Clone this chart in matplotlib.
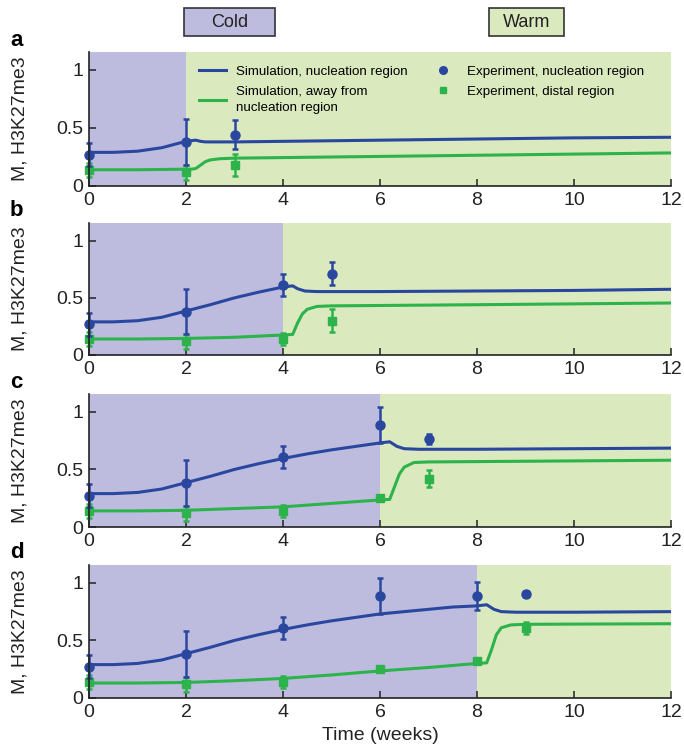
import matplotlib
matplotlib.use("Agg")
import matplotlib.pyplot as plt
from matplotlib.lines import Line2D
from matplotlib.patches import Rectangle

plt.rcParams['font.family'] = ['Liberation Sans', 'DejaVu Sans']

# ---------------- data ----------------
panel_labels = ['a', 'b', 'c', 'd']
cold_end = [2, 4, 6, 8]
x_ticks = [0, 2, 4, 6, 8, 10, 12]
y_ticks = [0, 0.5, 1]
y_tick_labels = ['0', '0.5', '1']

# experiment, nucleation region (times in weeks)
exp_nuc_t_cold = [0, 2, 4, 6, 8]
exp_nuc_m_cold = [0.27, 0.38, 0.61, 0.885, 0.885]
exp_nuc_e_cold = [0.10, 0.20, 0.095, 0.155, 0.125]
exp_nuc_t_post = [3, 5, 7, 9]
exp_nuc_m_post = [0.44, 0.71, 0.765, 0.90]
exp_nuc_e_post = [0.125, 0.10, 0.04, 0.025]

# experiment, distal region
exp_dist_t_cold = [0, 2, 4, 6, 8]
exp_dist_m_cold = [0.14, 0.12, 0.14, 0.25, 0.32]
exp_dist_e_cold = [0.06, 0.065, 0.055, 0.02, 0.02]
exp_dist_t_post = [3, 5, 7, 9]
exp_dist_m_post = [0.18, 0.30, 0.42, 0.61]
exp_dist_e_post = [0.095, 0.10, 0.075, 0.05]

# simulations, nucleation region
sim_nuc_t_a = [0, 0.5, 1, 1.5, 2, 2.1, 2.2, 2.3, 2.4, 2.6, 3, 4, 6, 8, 10, 12]
sim_nuc_m_a = [0.29, 0.29, 0.30, 0.33, 0.385, 0.39, 0.395, 0.385, 0.38, 0.38, 0.38, 0.385, 0.395, 0.405, 0.415, 0.42]
sim_nuc_t_b = [0, 0.5, 1, 1.5, 2, 2.5, 3, 3.5, 4, 4.1, 4.2, 4.3, 4.45, 4.7, 6, 8, 10, 12]
sim_nuc_m_b = [0.29, 0.29, 0.30, 0.33, 0.385, 0.44, 0.50, 0.55, 0.595, 0.60, 0.605, 0.58, 0.56, 0.555, 0.555, 0.56, 0.565, 0.575]
sim_nuc_t_c = [0, 0.5, 1, 1.5, 2, 2.5, 3, 3.5, 4, 4.5, 5, 5.5, 6, 6.1, 6.2, 6.35, 6.5, 6.8, 8, 10, 12]
sim_nuc_m_c = [0.29, 0.29, 0.30, 0.33, 0.385, 0.44, 0.50, 0.55, 0.595, 0.635, 0.67, 0.70, 0.73, 0.735, 0.74, 0.70, 0.68, 0.675, 0.675, 0.68, 0.685]
sim_nuc_t_d = [0, 0.5, 1, 1.5, 2, 2.5, 3, 3.5, 4, 4.5, 5, 5.5, 6, 6.5, 7, 7.5, 8, 8.1, 8.2, 8.35, 8.5, 8.8, 10, 12]
sim_nuc_m_d = [0.29, 0.29, 0.30, 0.33, 0.385, 0.44, 0.50, 0.55, 0.595, 0.635, 0.67, 0.70, 0.73, 0.75, 0.77, 0.79, 0.80, 0.805, 0.81, 0.77, 0.75, 0.745, 0.745, 0.75]

# simulations, away from nucleation region
sim_dist_t_a = [0, 1, 2, 2.1, 2.2, 2.3, 2.4, 2.5, 2.7, 3, 4, 6, 8, 10, 12]
sim_dist_m_a = [0.14, 0.14, 0.145, 0.145, 0.15, 0.18, 0.21, 0.225, 0.235, 0.24, 0.245, 0.255, 0.265, 0.275, 0.285]
sim_dist_t_b = [0, 1, 2, 3, 4, 4.2, 4.3, 4.4, 4.5, 4.7, 5, 8, 12]
sim_dist_m_b = [0.14, 0.14, 0.145, 0.155, 0.175, 0.18, 0.28, 0.36, 0.40, 0.425, 0.43, 0.44, 0.455]
sim_dist_t_c = [0, 1, 2, 3, 4, 5, 6, 6.2, 6.3, 6.4, 6.5, 6.7, 7, 12]
sim_dist_m_c = [0.14, 0.14, 0.145, 0.16, 0.175, 0.205, 0.235, 0.24, 0.35, 0.46, 0.52, 0.56, 0.565, 0.58]
sim_dist_t_d = [0, 1, 2, 3, 4, 5, 6, 7, 8, 8.2, 8.3, 8.4, 8.5, 8.7, 9, 12]
sim_dist_m_d = [0.13, 0.13, 0.135, 0.15, 0.17, 0.20, 0.235, 0.265, 0.30, 0.305, 0.42, 0.55, 0.61, 0.635, 0.64, 0.645]

sim_nuc_t = [sim_nuc_t_a, sim_nuc_t_b, sim_nuc_t_c, sim_nuc_t_d]
sim_nuc_m = [sim_nuc_m_a, sim_nuc_m_b, sim_nuc_m_c, sim_nuc_m_d]
sim_dist_t = [sim_dist_t_a, sim_dist_t_b, sim_dist_t_c, sim_dist_t_d]
sim_dist_m = [sim_dist_m_a, sim_dist_m_b, sim_dist_m_c, sim_dist_m_d]

# ---------------- style ----------------
BLUE = '#2a47a0'
GREEN = '#2db34b'
COLD = '#bebcde'
WARM = '#dbe9bf'
INK = '#222222'

W, H = 684, 756
fig = plt.figure(figsize=(W / 100, H / 100), dpi=100)

left_px, right_px = 89, 671
panel_px = [(52, 186), (223, 355), (394, 527), (565, 698)]
label_y_px = [40, 211, 383, 552]

axes = []
for i, (top, bot) in enumerate(panel_px):
    ax = fig.add_axes([left_px / W, 1 - bot / H, (right_px - left_px) / W, (bot - top) / H])
    axes.append(ax)
    T = cold_end[i]
    ax.axvspan(0, T, color=COLD, lw=0, zorder=0)
    ax.axvspan(T, 12, color=WARM, lw=0, zorder=0)

    ax.plot(sim_dist_t[i], sim_dist_m[i], color=GREEN, lw=2.2, zorder=3, solid_capstyle='butt')
    ax.plot(sim_nuc_t[i], sim_nuc_m[i], color=BLUE, lw=2.2, zorder=3, solid_capstyle='butt')

    n = i + 2
    td = exp_dist_t_cold[:n] + [exp_dist_t_post[i]]
    md = exp_dist_m_cold[:n] + [exp_dist_m_post[i]]
    ed = exp_dist_e_cold[:n] + [exp_dist_e_post[i]]
    c1 = ax.errorbar(td, md, yerr=ed, fmt='s', color=GREEN, ms=6, elinewidth=1.8,
                     capsize=2.5, capthick=1.8, zorder=4)
    tn = exp_nuc_t_cold[:n] + [exp_nuc_t_post[i]]
    mn = exp_nuc_m_cold[:n] + [exp_nuc_m_post[i]]
    en = exp_nuc_e_cold[:n] + [exp_nuc_e_post[i]]
    c2 = ax.errorbar(tn, mn, yerr=en, fmt='o', color=BLUE, ms=6.5, elinewidth=1.8,
                     capsize=2.5, capthick=1.8, zorder=5)
    for cont in (c1, c2):
        for art in cont.get_children():
            art.set_clip_on(False)

    ax.set_xlim(0, 12)
    ax.set_ylim(0, 1.155)
    ax.set_xticks(x_ticks)
    ax.set_yticks(y_ticks)
    ax.set_yticklabels(y_tick_labels)
    for s in ['top', 'right']:
        ax.spines[s].set_visible(False)
    for s in ['left', 'bottom']:
        ax.spines[s].set_linewidth(1.2)
        ax.spines[s].set_color(INK)
        ax.spines[s].set_zorder(6)
    ax.tick_params(direction='in', length=5, width=1.1, labelsize=14, pad=4, colors=INK)
    ax.set_ylabel('M, H3K27me3', fontsize=14, labelpad=20, color=INK)
    fig.text(10 / W, 1 - label_y_px[i] / H, panel_labels[i], fontsize=16,
             fontweight='bold', va='center', ha='left')

axes[-1].set_xlabel('Time (weeks)', fontsize=14, color=INK, labelpad=5)

# legend in panel a
handles = [
    Line2D([], [], color=BLUE, lw=2.2),
    Line2D([], [], color=GREEN, lw=2.2),
    Line2D([], [], color=BLUE, marker='o', ls='none', ms=5.5),
    Line2D([], [], color=GREEN, marker='s', ls='none', ms=5),
]
labels = ['Simulation, nucleation region', 'Simulation, away from\nnucleation region',
          'Experiment, nucleation region', 'Experiment, distal region']
leg = axes[0].legend(handles, labels, ncol=2, loc='upper left', bbox_to_anchor=(0.18, 0.94),
                     frameon=False, fontsize=9.6, handlelength=2.0, handletextpad=0.8,
                     columnspacing=1.6, labelspacing=0.6, borderaxespad=0)
for t in leg.get_texts():
    t.set_linespacing(1.45)

# Cold / Warm boxes
for (x0, x1, txt, col) in [(184, 275, 'Cold', COLD), (489, 564, 'Warm', WARM)]:
    fig.add_artist(Rectangle((x0 / W, 1 - 36 / H), (x1 - x0) / W, 28 / H,
                             transform=fig.transFigure, fc=col, ec='#333333', lw=1.2))
    fig.text((x0 + x1) / 2 / W, 1 - 22.5 / H, txt, ha='center', va='center',
             fontsize=13, color=INK)

fig.savefig('out.png', dpi=100)
